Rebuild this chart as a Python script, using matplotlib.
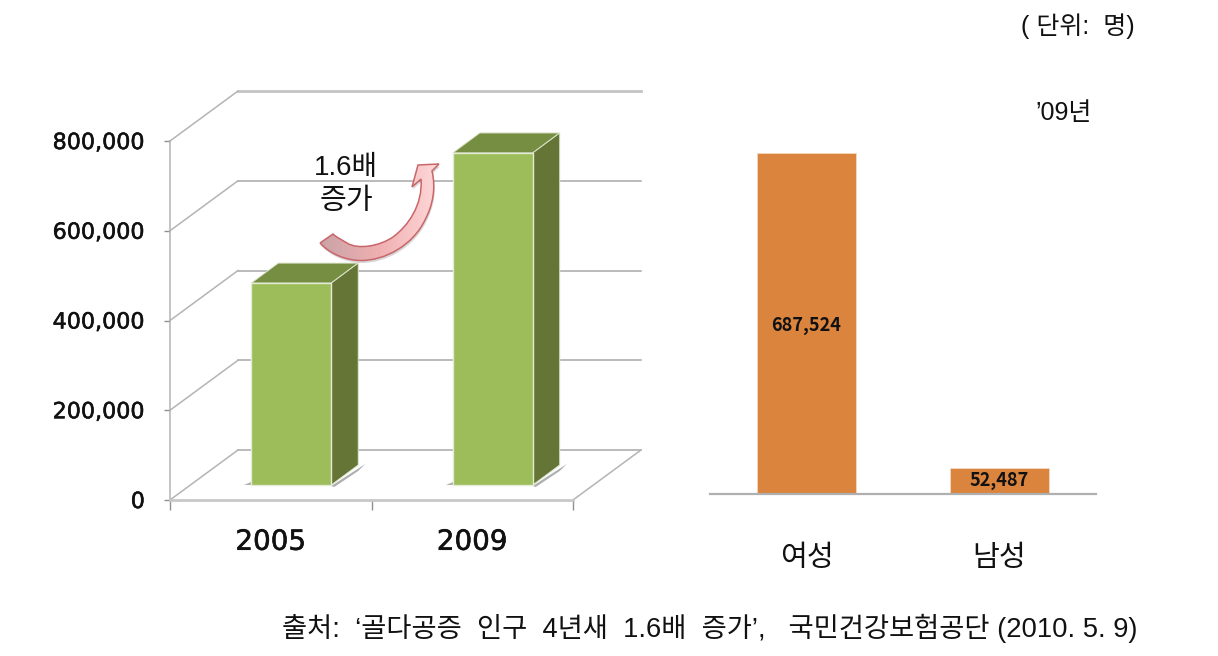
import numpy as np
import matplotlib
matplotlib.use('Agg')
import matplotlib.pyplot as plt
import matplotlib.patheffects as pe
from matplotlib.patches import Polygon, PathPatch
from matplotlib.path import Path
from matplotlib.colors import LinearSegmentedColormap

plt.rcParams['font.family'] = ['Liberation Sans', 'Noto Sans CJK KR']

# data
years = ['2005', '2009']
totals = [450000, 740011]
y_ticks = [0, 200000, 400000, 600000, 800000]
genders = ['여성', '남성']
gender_values = [687524, 52487]

W, H = 1218, 656
fig = plt.figure(figsize=(W / 100, H / 100), dpi=100)
thick = [pe.withStroke(linewidth=0.4, foreground='#111111')]


def px_axes(x0, y0, x1, y1, **kw):
    # axes from pixel box (y measured from the top)
    return fig.add_axes([x0 / W, 1 - y1 / H, (x1 - x0) / W, (y1 - y0) / H], **kw)


# left chart, fake 3d
ax = px_axes(170, 141, 573, 500)
ax.set_xlim(0, 2)
ax.set_ylim(0, 800000)
ax.patch.set_alpha(0)
sx = 2 / 403
sy = 800000 / 359
back_x, back_y = 68 * sx, 50 * sy
grid_c = '#a8a8a8'

for i, v in enumerate(y_ticks):
    top = v == y_ticks[-1]
    ax.plot([back_x, 2 + back_x], [v + back_y, v + back_y], color='#c4c4c4' if top else grid_c,
            lw=2 if top else 1.1, clip_on=False, zorder=1)
    ax.plot([0, back_x], [v, v + back_y], color='#b4b4b4', lw=1.1, clip_on=False, zorder=1)
ax.plot([2, 2 + back_x], [0, back_y], color='#b4b4b4', lw=1.1, clip_on=False, zorder=1)

# bar sizes in px
bar_w = 80
depth_x, depth_y = 27, 20
shift_x, shift_y = 20.5, 15
for i, v in enumerate(totals):
    x0 = i + 0.5 + (shift_x - bar_w / 2) * sx
    x1 = x0 + bar_w * sx
    y0 = shift_y * sy
    y1 = y0 + v
    dx, dy = depth_x * sx, depth_y * sy
    # shadow on the floor
    ax.add_patch(Polygon([(x1, y0 - 1 * sy), (x1 + dx + 7 * sx, y0 + dy + 1 * sy), (x1 + dx, y0 + dy - 6 * sy),
                          (x1 + 3 * sx, y0 - 2 * sy)], fc='#b0b0b0', ec='none', clip_on=False, zorder=2))
    ax.add_patch(Polygon([(x0 - 7 * sx, y0), (x0, y0), (x0, y0 + 3 * sy)], fc='#b0b0b0', ec='none',
                         clip_on=False, zorder=2))
    ax.add_patch(Polygon([(x0, y1), (x1, y1), (x1 + dx, y1 + dy), (x0 + dx, y1 + dy)],
                         fc='#768E42', ec='#dfe6cf', lw=0.7, clip_on=False, zorder=3))
    ax.add_patch(Polygon([(x1, y0), (x1 + dx, y0 + dy), (x1 + dx, y1 + dy), (x1, y1)],
                         fc='#647536', ec='#dfe6cf', lw=0.7, clip_on=False, zorder=3))
    ax.add_patch(Polygon([(x0, y0), (x1, y0), (x1, y1), (x0, y1)],
                         fc='#9DBC5A', ec='#e4ebd4', lw=1, clip_on=False, zorder=4))

for s in ['top', 'right']:
    ax.spines[s].set_visible(False)
ax.spines['left'].set_color('#b4b4b4')
ax.spines['left'].set_linewidth(1.1)
ax.spines['bottom'].set_color('#c8c8c8')
ax.spines['bottom'].set_linewidth(2)
ax.set_yticks(y_ticks)
ax.set_yticklabels([f'{v:,}' for v in y_ticks], family='DejaVu Sans', fontsize=16, color='#111111',
                   path_effects=thick)
ax.tick_params(axis='y', length=4, width=1, color='#909090', pad=14)
ax.set_xticks([0, 1, 2])
ax.set_xticklabels([])
ax.tick_params(axis='x', which='major', length=7.5, width=1, color='#909090')
ax.set_xticks([0.5, 1.5], minor=True)
ax.set_xticklabels(years, minor=True, family='DejaVu Sans', fontsize=20, color='#111111', path_effects=thick)
ax.tick_params(axis='x', which='minor', length=0, pad=20)

# right chart
ax2 = px_axes(710, 153, 1096, 494)
ax2.set_xlim(-0.5, 1.5)
ax2.set_ylim(0, max(gender_values))
ax2.patch.set_alpha(0)
bars = ax2.bar(range(2), gender_values, width=0.51, color='#DB843D', edgecolor='#f3d9c2', lw=0.6)
for s in ['top', 'right', 'left']:
    ax2.spines[s].set_visible(False)
ax2.spines['bottom'].set_color('#b0b0b0')
ax2.spines['bottom'].set_linewidth(1.6)
ax2.set_yticks([])
ax2.set_xticks(range(2))
ax2.set_xticklabels(genders, fontsize=21, color='#111111')
ax2.tick_params(axis='x', length=0, pad=36)
ax2.text(0, gender_values[0] / 2 - 5000, f'{gender_values[0]:,}', ha='center', va='center',
         fontsize=13, fontweight='bold', color='#111111', family='Noto Sans CJK KR')
ax2.text(1, gender_values[1] / 2, f'{gender_values[1]:,}', ha='center', va='center',
         fontsize=13, fontweight='bold', color='#111111', family='Noto Sans CJK KR')

# overlay in pixel coords for arrow and notes
ov = fig.add_axes([0, 0, 1, 1], zorder=10)
ov.patch.set_alpha(0)
ov.axis('off')

M, L, C = Path.MOVETO, Path.LINETO, Path.CURVE4
arrow_pts = [(320, 243),
             (330, 254), (345, 260), (360, 260.5),
             (385, 261), (413, 245), (425, 220),
             (433, 205), (436, 188), (432, 171),
             (439, 164), (418, 165), (412, 187), (421, 179),
             (423, 205), (408, 226), (393, 237),
             (380, 246), (358, 250), (347, 243),
             (342, 240), (336, 237), (333, 234),
             (320, 243)]
arrow_codes = [M, C, C, C, C, C, C, C, C, C, L, L, L, L, C, C, C, C, C, C, C, C, C, L]
arrow = Path(arrow_pts, arrow_codes)
shadow = Path(np.array(arrow_pts) + [1, 2.5], arrow_codes)
ov.add_patch(PathPatch(shadow, fc='#808080', ec='none', alpha=0.3, zorder=10))
grad = np.linspace(0, 1, 128).reshape(1, -1)
cmap = LinearSegmentedColormap.from_list('a', ['#c9a3a6', '#f0b0b2', '#ffd9d9'])
im = ov.imshow(grad, extent=(320, 440, 262, 162), cmap=cmap, aspect='auto', zorder=11)
patch = PathPatch(arrow, fc='none', ec='#c8666a', lw=1.1, zorder=12)
ov.add_patch(patch)
im.set_clip_path(patch)
ov.set_xlim(0, W)
ov.set_ylim(H, 0)

ov.text(346, 168, '1.6배', ha='center', va='center', fontsize=20, color='#111111', zorder=13)
ov.text(346, 201, '증가', ha='center', va='center', fontsize=21, color='#111111', zorder=13)
ov.text(1135, 26, '( 단위:  명)', ha='right', va='center', fontsize=18, color='#111111')
ov.text(1092, 113, "’09년", ha='right', va='center', fontsize=18, color='#111111')
ov.text(1137, 628, "출처:  ‘골다공증  인구  4년새  1.6배  증가’,   국민건강보험공단 (2010. 5. 9)",
        ha='right', va='center', fontsize=19.7, color='#111111')

fig.savefig('out.png', dpi=100)
